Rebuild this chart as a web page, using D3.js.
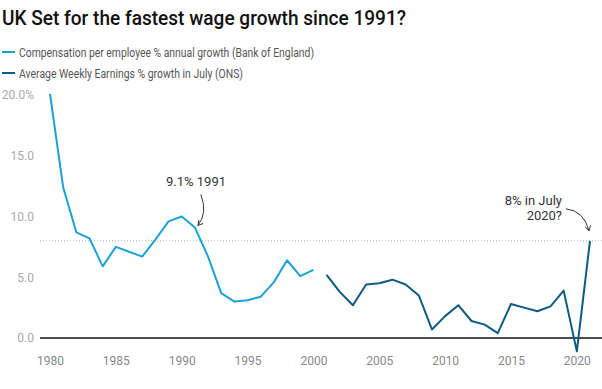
<!DOCTYPE html>
<html>
<head>
<meta charset="utf-8">
<script src="https://cdn.jsdelivr.net/npm/d3@7"></script>
<style>
  body { margin: 0; background: #fff; }
  svg { font-family: Roboto, sans-serif; display: block; }
</style>
</head>
<body>
<div class="chart"></div>
<script>
var boeYears = d3.range(1980, 2001);
var boeValues = [20.1, 12.4, 8.7, 8.2, 5.9, 7.5, 7.1, 6.7, 8.1, 9.6, 10.0, 9.1, 6.7, 3.7, 3.0, 3.1, 3.4, 4.6, 6.4, 5.1, 5.6];
var onsYears = d3.range(2001, 2022);
var onsValues = [5.2, 3.8, 2.7, 4.4, 4.5, 4.8, 4.4, 3.5, 0.7, 1.8, 2.7, 1.4, 1.1, 0.4, 2.8, 2.5, 2.2, 2.6, 3.9, -1.1, 8.0];
var yTicks = [0, 5, 10, 15, 20];
var xTicks = [1980, 1985, 1990, 1995, 2000, 2005, 2010, 2015, 2020];
var legendLabels = ['Compensation per employee % annual growth (Bank of England)', 'Average Weekly Earnings % growth in July (ONS)'];
var legendWidths = [295, 224];
var colors = ['#1ba2d3', '#0d5a82'];

var width = 602, height = 389;

var svg = d3.select('.chart')
    .append('svg')
    .attr('width', width)
    .attr('height', height);

svg.append('defs').append('marker')
    .attr('id', 'arrow')
    .attr('viewBox', '0 0 10 10')
    .attr('refX', 8).attr('refY', 5)
    .attr('markerWidth', 7).attr('markerHeight', 7)
    .attr('orient', 'auto-start-reverse')
    .append('path')
    .attr('d', 'M1,1 L8,5 L1,9')
    .attr('fill', 'none')
    .attr('stroke', '#333')
    .attr('stroke-width', 1.3);

// the original uses a condensed face, so squeeze to its measured widths
svg.append('text')
    .attr('x', 2).attr('y', 25)
    .attr('textLength', 404)
    .attr('lengthAdjust', 'spacingAndGlyphs')
    .style('font-size', '21px')
    .style('font-weight', 500)
    .style('fill', '#111')
    .text('UK Set for the fastest wage growth since 1991?');

var legend = svg.selectAll('.legend')
    .data(legendLabels)
    .enter()
    .append('g')
    .attr('class', 'legend')
    .attr('transform', (d, i) => `translate(2, ${52 + i * 21})`);
legend.append('line')
    .attr('x1', 0).attr('x2', 13)
    .attr('stroke', (d, i) => colors[i])
    .attr('stroke-width', 2);
legend.append('text')
    .attr('x', 17).attr('y', 4.5)
    .attr('textLength', (d, i) => legendWidths[i])
    .attr('lengthAdjust', 'spacingAndGlyphs')
    .style('font-size', '12.5px')
    .style('fill', '#555')
    .text(d => d);

var xScale = d3.scaleLinear()
    .domain([1980, 2021])
    .range([50, 590]);
var yScale = d3.scaleLinear()
    .domain([0, 20])
    .range([338, 95]);

var yAxis = d3.axisLeft(yScale)
    .tickValues(yTicks)
    .tickSize(0)
    .tickPadding(0)
    .tickFormat(d => d === 20 ? '20.0%' : d3.format('.1f')(d));
svg.append('g')
    .attr('transform', 'translate(34, 0)')
    .call(yAxis)
    .call(g => g.select('.domain').remove())
    .selectAll('text')
    .style('font-family', 'Roboto, sans-serif')
    .style('font-size', '12px')
    .style('fill', '#aaa');

var xAxis = d3.axisBottom(xScale)
    .tickValues(xTicks)
    .tickSize(0)
    .tickPadding(0)
    .tickFormat(d3.format('d'));
svg.append('g')
    .attr('transform', 'translate(0, 356)')
    .call(xAxis)
    .call(g => g.select('.domain').remove())
    .selectAll('text')
    .style('font-family', 'Roboto, sans-serif')
    .style('font-size', '12px')
    .style('fill', '#888');

// 8% reference line
svg.append('line')
    .attr('x1', 40).attr('x2', width)
    .attr('y1', yScale(8)).attr('y2', yScale(8))
    .attr('stroke', '#aaa')
    .attr('stroke-width', 1)
    .attr('stroke-dasharray', '1,2');

svg.append('line')
    .attr('x1', 40).attr('x2', width)
    .attr('y1', yScale(0)).attr('y2', yScale(0))
    .attr('stroke', '#111')
    .attr('stroke-width', 1.5);

var line = d3.line()
    .x(d => xScale(d[0]))
    .y(d => yScale(d[1]));

[[boeYears, boeValues], [onsYears, onsValues]].forEach((s, i) => {
    svg.append('path')
        .datum(d3.zip(s[0], s[1]))
        .attr('fill', 'none')
        .attr('stroke', colors[i])
        .attr('stroke-width', 2)
        .attr('stroke-linejoin', 'round')
        .attr('d', line);
});

// annotations
var ann = svg.append('g')
    .style('font-size', '13px')
    .style('fill', '#333');
ann.append('text')
    .attr('x', 196).attr('y', 186)
    .attr('text-anchor', 'middle')
    .text('9.1% 1991');
var a1x = xScale(1991), a1y = yScale(9.1);
ann.append('path')
    .attr('d', `M${a1x + 6},${a1y - 33} Q${a1x + 13},${a1y - 14} ${a1x + 3},${a1y - 2}`)
    .attr('fill', 'none')
    .attr('stroke', '#333')
    .attr('stroke-width', 1)
    .attr('marker-end', 'url(#arrow)');

ann.append('text')
    .attr('x', 562).attr('y', 205)
    .attr('text-anchor', 'end')
    .text('8% in July');
ann.append('text')
    .attr('x', 562).attr('y', 220)
    .attr('text-anchor', 'end')
    .text('2020?');
var a2x = xScale(2021), a2y = yScale(8);
ann.append('path')
    .attr('d', `M${a2x - 24},${a2y - 32} Q${a2x - 6},${a2y - 30} ${a2x - 1},${a2y - 10}`)
    .attr('fill', 'none')
    .attr('stroke', '#333')
    .attr('stroke-width', 1)
    .attr('marker-end', 'url(#arrow)');
</script>
</body>
</html>
